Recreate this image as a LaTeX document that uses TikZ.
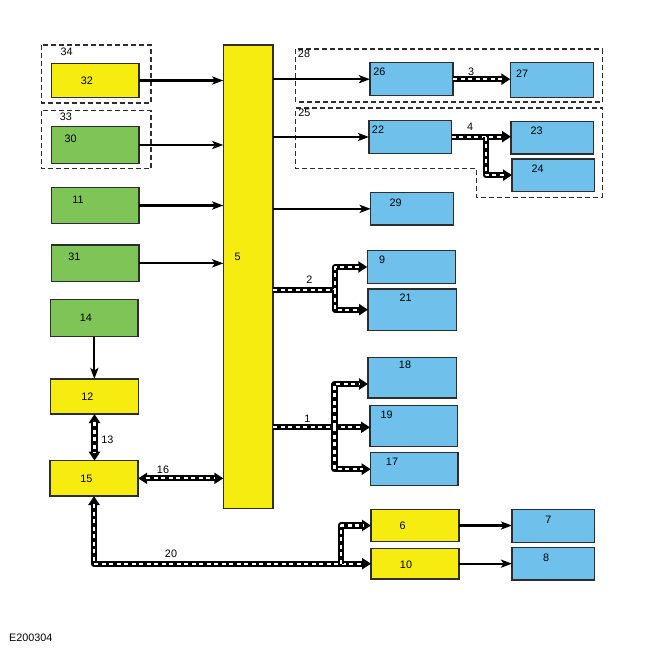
\documentclass[tikz,border=0pt]{standalone}
\usepackage{fontspec}
\setmainfont{Liberation Sans}
\usetikzlibrary{arrows.meta,calc}
\definecolor{cyel}{RGB}{247,236,16}
\definecolor{cgrn}{RGB}{126,196,86}
\definecolor{cblu}{RGB}{111,193,236}
\definecolor{cbrd}{RGB}{45,45,45}
\tikzset{
  boxbase/.style={draw=cbrd,line width=1.5pt,inner sep=0pt,outer sep=0pt},
  yel/.style={boxbase,fill=cyel},
  grn/.style={boxbase,fill=cgrn},
  blu/.style={boxbase,fill=cblu},
  lbl/.style={inner sep=0pt,font=\fontsize{10.8}{12}\selectfont},
  dbox/.style={draw=cbrd,line width=1.3pt,dash pattern=on 5pt off 3pt},
  sarrow/.style={line width=2.2pt,-{Stealth[length=11pt,width=8pt,inset=2.5pt]}},
  busb/.style={line width=6.2pt,black,line join=round},
  busw/.style={line width=2.2pt,white,dash pattern=on 4pt off 3.5pt,line join=round},
}
\newcommand\mybox[6]{\node[#6,minimum width={(#4-#2)*1pt},minimum height={(#5-#3)*1pt}] (#1) at ({(#2+#4)/2},{(#3+#5)/2}) {};}
\newcommand\busend[1]{\draw[busb,-{Triangle[length=9pt,width=11pt]}] #1; \draw[busw,shorten >=8pt] #1;}
\newcommand\busboth[1]{\draw[busb,{Triangle[length=9pt,width=11pt]}-{Triangle[length=9pt,width=11pt]}] #1; \draw[busw,shorten >=8pt,shorten <=8pt] #1;}
\begin{document}
\begin{tikzpicture}[x=1pt,y=-1pt]
\useasboundingbox[fill=white] (0,0) rectangle (650,650);
% dashed groups
\draw[dbox] (41.7,45) rectangle (151,103);
\draw[dbox] (41.7,110.7) rectangle (151,168.7);
\draw[dbox] (295.7,49) rectangle (602.3,102);
\draw[dbox] (295.7,108) -- (602.3,108) -- (602.3,197.3) -- (476.7,197.3) -- (476.7,168.3) -- (295.7,168.3) -- cycle;
% boxes
\mybox{n32}{51.7}{63.3}{139}{97.7}{yel}
\mybox{n30}{51.7}{126.7}{139}{163.3}{grn}
\mybox{n11}{51.7}{187.3}{139}{223.7}{grn}
\mybox{n31}{51.7}{245}{139}{281.7}{grn}
\mybox{n14}{50.7}{299.7}{138}{336.7}{grn}
\mybox{n12}{50.7}{379}{138.3}{414}{yel}
\mybox{n15}{49.8}{460.7}{138.2}{496}{yel}
\mybox{n5}{223.3}{45}{273}{508.7}{yel}
\mybox{n26}{370}{62.7}{453}{95.7}{blu}
\mybox{n27}{510.3}{62.7}{593.3}{97.3}{blu}
\mybox{n22}{369}{120.7}{451.7}{153.3}{blu}
\mybox{n23}{511}{121.7}{593.3}{154}{blu}
\mybox{n24}{512}{159}{594.3}{191.3}{blu}
\mybox{n29}{370.7}{192.7}{453.3}{225}{blu}
\mybox{n9}{367.3}{250.7}{455.7}{283.3}{blu}
\mybox{n21}{368}{289}{456.7}{330.3}{blu}
\mybox{n18}{368}{357.3}{456.7}{398}{blu}
\mybox{n19}{370}{405.7}{457.3}{446.7}{blu}
\mybox{n17}{370.7}{452.7}{458}{485.7}{blu}
\mybox{n6}{371}{509.7}{459}{541.3}{yel}
\mybox{n10}{371}{548.3}{459}{579}{yel}
\mybox{n7}{512}{509.7}{594.5}{542.3}{blu}
\mybox{n8}{512}{547.7}{594.5}{580}{blu}
% labels
\node[lbl] (l34) at (66.7,51.7) {34};
\node[lbl] (l32) at (87,81) {32};
\node[lbl] (l33) at (66,117) {33};
\node[lbl] (l30) at (70.7,139) {30};
\node[lbl] (l11) at (78,200) {11};
\node[lbl] (l31) at (74.3,256.7) {31};
\node[lbl] (l14) at (86,317.7) {14};
\node[lbl] (l12) at (87.3,396.7) {12};
\node[lbl] (l15) at (86.5,479) {15};
\node[lbl] (l13) at (107.3,439.3) {13};
\node[lbl] (l16) at (163,469.3) {16};
\node[lbl] (l20) at (171,554) {20};
\node[lbl] (l5) at (237.7,257) {5};
\node[lbl] (l28) at (304,54) {28};
\node[lbl] (l25) at (304.3,112.7) {25};
\node[lbl] (l26) at (379.3,72) {26};
\node[lbl] (l27) at (522,73.3) {27};
\node[lbl] (l3) at (471,71.7) {3};
\node[lbl] (l22) at (378,130) {22};
\node[lbl] (l4) at (470,126.7) {4};
\node[lbl] (l23) at (536.7,130.7) {23};
\node[lbl] (l24) at (537.7,168.3) {24};
\node[lbl] (l29) at (395.7,202.3) {29};
\node[lbl] (l2) at (309.3,279.7) {2};
\node[lbl] (l9) at (382,260) {9};
\node[lbl] (l21) at (405.7,297.3) {21};
\node[lbl] (l18) at (405,364.3) {18};
\node[lbl] (l1) at (307.3,418.7) {1};
\node[lbl] (l19) at (386.7,414.3) {19};
\node[lbl] (l17) at (392,461.7) {17};
\node[lbl] (l6) at (402.5,525.7) {6};
\node[lbl] (l10) at (406,564.3) {10};
\node[lbl] (l7) at (548.4,520) {7};
\node[lbl] (l8) at (546,557.7) {8};
\node[lbl,anchor=west] (lE) at (9,637.3) {E200304};
% solid arrows
\draw[sarrow] (n32.east) -- (n32.east -| n5.west);
\draw[sarrow] (n30.east) -- (n30.east -| n5.west);
\draw[sarrow] (n11.east) -- (n11.east -| n5.west);
\draw[sarrow] (n31.east) -- (n31.east -| n5.west);
\draw[sarrow] (n14.south) -- (n14.south |- n12.north);
\draw[sarrow] (n5.east |- n26.west) -- (n26.west);
\draw[sarrow] (n5.east |- n22.west) -- (n22.west);
\draw[sarrow] (n5.east |- n29.west) -- (n29.west);
\draw[sarrow] (n6.east) -- (n6.east -| n7.west);
\draw[sarrow] (n10.east) -- (n10.east -| n8.west);
% bus coordinates
\coordinate (b2) at (335,290);
\coordinate (b1) at (334.5,427.3);
\coordinate (t18) at (368,384);
\coordinate (b4) at (485.7,136.7);
\coordinate (b20) at (340.7,563.7);
% buses
\busend{(n26.east) -- (n26.east -| n27.west)}
\busend{(n22.east |- b4) -- (b4 -| n23.west)}
\busend{(b4) -- (b4 |- n24.west) -- (n24.west)}
\busend{(n5.east |- b2) -- (b2) -- (b2 |- n9.west) -- (n9.west)}
\busend{(b2) -- (b2 |- n21.west) -- (n21.west)}
\busend{(n5.east |- b1) -- (b1 -| n19.west)}
\busend{(b1) -- (b1 |- t18) -- (t18)}
\busend{(b1) -- (b1 |- n17.west) -- (n17.west)}
\busboth{(n12.south) -- (n12.south |- n15.north)}
\busboth{(n15.east) -- (n15.east -| n5.west)}
\busboth{(n15.south) -- (n15.south |- b20) -- (b20 -| n10.west)}
\busend{(b20) -- (b20 |- n6.west) -- (n6.west)}
\end{tikzpicture}
\end{document}
